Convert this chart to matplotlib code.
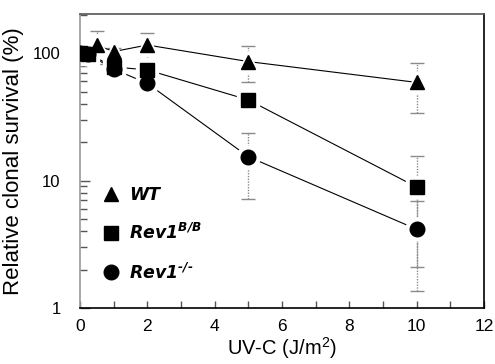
import matplotlib
matplotlib.use("Agg")
import matplotlib.pyplot as plt
from matplotlib.lines import Line2D
from matplotlib.ticker import LogLocator, NullFormatter, FixedLocator

plt.rcParams['font.family'] = ['Liberation Sans', 'DejaVu Sans']
plt.rcParams['mathtext.fontset'] = 'custom'
plt.rcParams['mathtext.bf'] = 'DejaVu Sans:bold:italic'
plt.rcParams['mathtext.rm'] = 'Liberation Sans'

# data
dose_wt = [0, 0.5, 1, 2, 5, 10]
wt = [100, 116, 103, 116, 86, 59]
wt_err = [0, 33, 6, 28, 27, 25]

dose_mut = [0, 0.25, 1, 2, 5, 10]
revbb = [100, 99, 78, 74, 43, 8.9]
revbb_err = [0, 0, 0, 0, 0, 6.8]
revko = [100, 98, 75, 58, 15.4, 4.15]
revko_err = [0, 0, 0, 0, 8.2, 2.8]

labels = ["WT", r"Rev1$^{\mathbf{B/B}}$", "Rev1$^{\\mathbf{\u2010/\u2010}}$"]
xticks = [0, 2, 4, 6, 8, 10, 12]

fig = plt.figure(figsize=(4.95, 3.64), dpi=100)
ax = fig.add_axes([0.1616, 0.1538, 0.8162, 0.8091])

series = [
    (dose_wt, wt, wt_err, '^', 10.5),
    (dose_mut, revbb, revbb_err, 's', 10),
    (dose_mut, revko, revko_err, 'o', 10.5),
]

for x, y, e, m, ms in series:
    eb = ax.errorbar(x, y, yerr=e, fmt='none', ecolor='#8a8a8a', elinewidth=1.0,
                     capsize=5, capthick=1.0, zorder=1)
    for lc in eb[2]:
        lc.set_linestyle((0, (1, 1)))
    ax.plot(x, y, color='black', lw=0.8, zorder=2)
    ax.plot(x, y, linestyle='none', marker=m, ms=ms + 6, mfc='white', mec='white', zorder=3)
for x, y, e, m, ms in series:
    ax.plot(x, y, linestyle='none', marker=m, ms=ms, mfc='black', mec='black', zorder=4)

ax.set_yscale('log')
ax.set_xlim(0, 12)
ax.set_ylim(1, 205)
ax.xaxis.set_major_locator(FixedLocator(xticks))
ax.xaxis.set_minor_locator(FixedLocator([1, 3, 5, 7, 9, 11]))
ax.set_xticklabels([str(t) for t in xticks])
ax.yaxis.set_major_locator(FixedLocator([1, 10, 100]))
ax.set_yticklabels(['1', '10', '100'])
ax.yaxis.set_minor_locator(LogLocator(base=10, subs=range(2, 10)))
ax.yaxis.set_minor_formatter(NullFormatter())

ax.tick_params(axis='both', which='both', direction='in', color='#555555',
               top=False, right=False)
ax.tick_params(axis='x', which='major', length=5, width=1, labelsize=12.5, pad=8)
ax.tick_params(axis='x', which='minor', length=5, width=1)
ax.tick_params(axis='y', which='major', length=7, width=1, labelsize=12, pad=14)
ax.tick_params(axis='y', which='minor', length=5, width=1)

ax.spines['left'].set_color('#9a9a9a')
ax.spines['top'].set_color('#555555')
ax.spines['right'].set_color('black')
ax.spines['bottom'].set_color('black')
for s in ax.spines.values():
    s.set_linewidth(1.2)
    s.set_zorder(3.5)

ax.set_xlabel(r"UV-C (J/m$^{2}$)", fontsize=14.5, labelpad=1)
ax.set_ylabel("Relative clonal survival (%)", fontsize=16, labelpad=6)

handles = [Line2D([], [], linestyle='none', marker=m, ms=ms, color='black')
           for _, _, _, m, ms in series]
leg = ax.legend(handles, labels, loc='lower left', bbox_to_anchor=(0.038, 0.063),
                borderaxespad=0, frameon=False, handletextpad=0.55, labelspacing=1.1,
                handlelength=1.0,
                prop={'family': 'DejaVu Sans', 'weight': 'bold', 'style': 'italic', 'size': 12.5})

fig.savefig("out.png", dpi=100)
